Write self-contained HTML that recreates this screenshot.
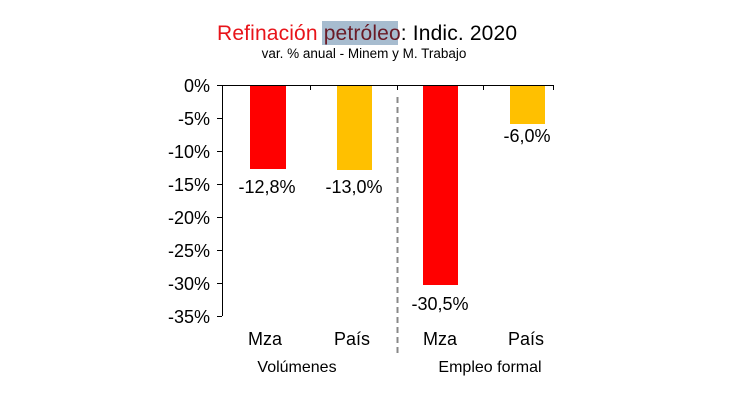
<!DOCTYPE html>
<html><head><meta charset="utf-8"><style>body{margin:0;background:#fff}</style></head><body>
<svg width="736" height="407" xmlns="http://www.w3.org/2000/svg" font-family="Liberation Sans, sans-serif">
<rect width="736" height="407" fill="#fff"/>
<rect x="322" y="21" width="76" height="24" fill="#a7bccf"/>
<text x="217" y="40" font-size="21" textLength="300" fill="#000"><tspan fill="#e8141a">Refinación </tspan><tspan fill="#6a1a26">petróleo</tspan><tspan fill="#000">: Indic. 2020</tspan></text>
<text x="364" y="58" font-size="13.5" text-anchor="middle" fill="#000">var. % anual - Minem  y M. Trabajo</text>
<g stroke="#000" stroke-width="1">
<line x1="222.5" y1="85" x2="222.5" y2="316"/>
<line x1="222" y1="85.5" x2="553" y2="85.5"/>
<line x1="217" y1="85.5" x2="222" y2="85.5"/><line x1="217" y1="118.5" x2="222" y2="118.5"/><line x1="217" y1="151.5" x2="222" y2="151.5"/><line x1="217" y1="184.5" x2="222" y2="184.5"/><line x1="217" y1="217.5" x2="222" y2="217.5"/><line x1="217" y1="250.5" x2="222" y2="250.5"/><line x1="217" y1="283.5" x2="222" y2="283.5"/><line x1="217" y1="316.5" x2="222" y2="316.5"/>
<line x1="310.5" y1="85" x2="310.5" y2="90"/><line x1="397.5" y1="85" x2="397.5" y2="90"/><line x1="483.5" y1="85" x2="483.5" y2="90"/><line x1="553.5" y1="85" x2="553.5" y2="90"/>
</g>
<line x1="397.5" y1="97" x2="397.5" y2="356" stroke="#888" stroke-width="2" stroke-dasharray="6,4"/>
<g font-size="18" text-anchor="end" fill="#000">
<text x="210" y="92">0%</text><text x="210" y="125">-5%</text><text x="210" y="158">-10%</text><text x="210" y="191">-15%</text><text x="210" y="224">-20%</text><text x="210" y="257">-25%</text><text x="210" y="290">-30%</text><text x="210" y="323">-35%</text>
</g>
<rect x="250" y="86" width="36" height="83" fill="#ff0000"/>
<rect x="337" y="86" width="35" height="84" fill="#ffc000"/>
<rect x="423" y="86" width="35" height="199" fill="#ff0000"/>
<rect x="510" y="86" width="35" height="38" fill="#ffc000"/>
<g font-size="18" text-anchor="middle" fill="#000">
<text x="267" y="193">-12,8%</text><text x="354" y="193">-13,0%</text><text x="440" y="310">-30,5%</text><text x="527" y="142">-6,0%</text>
<text x="265" y="345">Mza</text><text x="352" y="345">País</text><text x="440" y="345">Mza</text><text x="526" y="345">País</text>
</g>
<g font-size="16" text-anchor="middle" fill="#000">
<text x="297" y="372">Volúmenes</text><text x="490" y="372">Empleo formal</text>
</g>
</svg>
</body></html>
